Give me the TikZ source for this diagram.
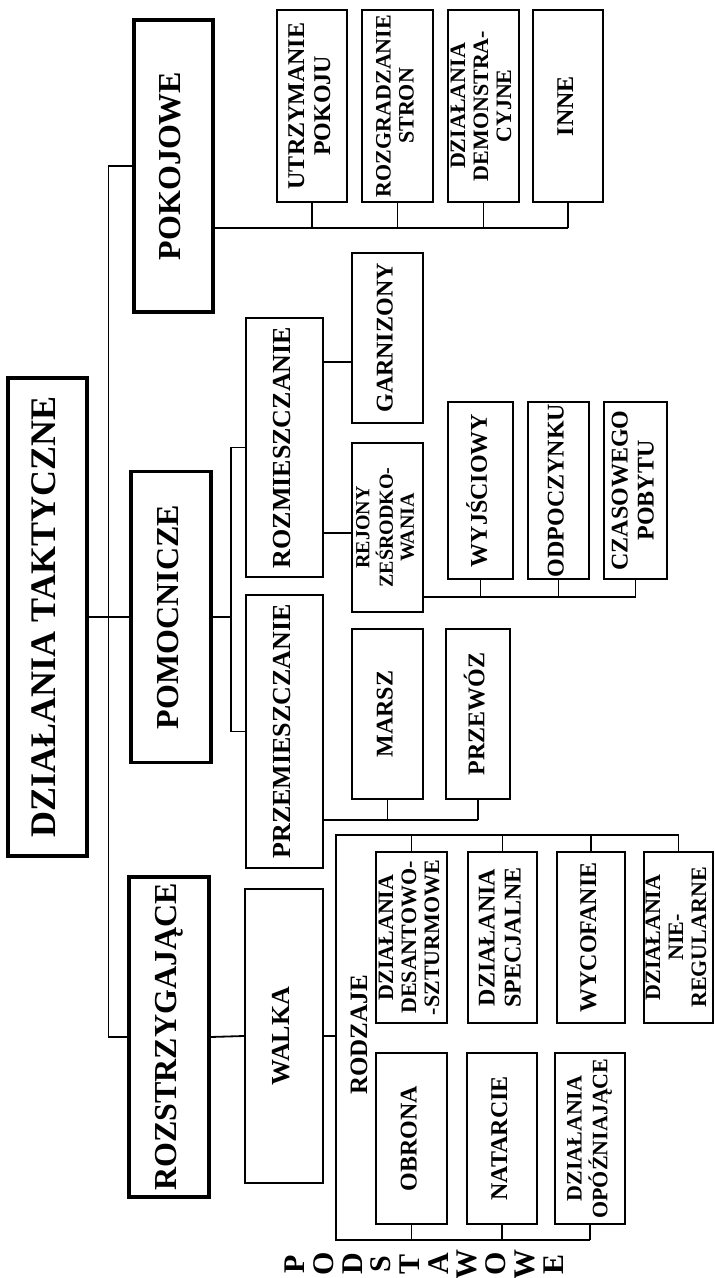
\documentclass[tikz,border=0pt]{standalone}
\usepackage{fontspec}
\setmainfont{Liberation Serif}
\usepackage{graphicx}
\newcommand\vt[1]{\rotatebox{90}{\begin{tabular}{@{}c@{}}#1\end{tabular}}}
\tikzset{
	bx/.style 2 args={draw,inner sep=0pt,minimum width=#1*0.5pt,minimum height=#2*0.5pt},
	lvlzero/.style={line width=1.9pt,font=\fontsize{18}{20}\selectfont\bfseries},
	lvlone/.style={line width=1.6pt,font=\fontsize{16}{18}\selectfont\bfseries},
	lvltwo/.style={line width=1.2pt,font=\fontsize{13}{14}\selectfont\bfseries},
	leafbox/.style={line width=1.1pt,font=\fontsize{12}{13}\selectfont\bfseries},
	smallbox/.style={line width=1.1pt,font=\fontsize{11}{11.5}\selectfont\bfseries},
	link/.style={line width=0.9pt},
}
\begin{document}
\begin{tikzpicture}[x=0.5pt,y=-0.5pt]
	\useasboundingbox (0,0) rectangle (715,1278);
	% levels 0 and 1
	\node[bx={79}{478},lvlzero] (root) at (47.5,617) {\vt{DZIAŁANIA TAKTYCZNE}};
	\node[bx={79}{292},lvlone] (pok) at (173.5,166) {\vt{POKOJOWE}};
	\node[bx={80}{291},lvlone] (pom) at (171,617) {\vt{POMOCNICZE}};
	\node[bx={80}{320},lvlone] (roz) at (169,1037) {\vt{ROZSTRZYGAJĄCE}};
	\draw[link] (root.east) -- (pom.west);
	\draw[link] (pok.west) -- ++(-24,0) |- (roz.west);
	% pokojowe
	\node[bx={70}{192},leafbox] (utrz) at (312,106) {\vt{UTRZYMANIE\\POKOJU}};
	\node[bx={71}{192},smallbox] (rozg) at (397.5,106) {\vt{ROZGRADZANIE\\STRON}};
	\node[bx={71}{192},smallbox] (demo) at (483.5,106) {\vt{DZIAŁANIA\\DEMONSTRA-\\CYJNE}};
	\node[bx={70}{192},leafbox] (inne) at (568,106) {\vt{INNE}};
	\coordinate (pbus) at (0,228);
	\draw[link] (pok.east |- pbus) -- (inne.south |- pbus);
	\foreach \n in {utrz,rozg,demo,inne}
		\draw[link] (\n.south) -- (\n.south |- pbus);
	% pomocnicze
	\node[bx={77}{259},lvltwo] (rozm) at (284.5,447.5) {\vt{ROZMIESZCZANIE}};
	\node[bx={77}{273},lvltwo] (przem) at (284.5,731.5) {\vt{PRZEMIESZCZANIE}};
	\coordinate (pb) at (231,617);
	\draw[link] (pom.east) -- (pb);
	\draw[link] (rozm.west) -| (pb) |- (przem.west);
	\node[bx={71}{170},leafbox] (garn) at (387.5,338) {\vt{GARNIZONY}};
	\node[bx={71}{169},leafbox,font=\fontsize{10}{10.5}\selectfont\bfseries] (rej) at (387.5,527.5) {\vt{REJONY\\ZEŚRODKO-\\WANIA}};
	\coordinate (g1) at ([yshift=-12pt]garn.west);
	\coordinate (r1) at ([yshift=-2.75pt]rej.west);
	\draw[link] (g1) -- (g1 -| rozm.east);
	\draw[link] (r1) -- (r1 -| rozm.east);
	\node[bx={65}{177},leafbox] (wyj) at (480.5,490.5) {\vt{WYJŚCIOWY}};
	\node[bx={61}{177},leafbox] (odp) at (558.5,490.5) {\vt{ODPOCZYNKU}};
	\node[bx={63}{177},leafbox] (czas) at (635.5,490.5) {\vt{CZASOWEGO\\POBYTU}};
	\coordinate (rbus) at (0,597);
	\draw[link] (rej.east |- rbus) -- (czas.south |- rbus);
	\foreach \n in {wyj,odp,czas}
		\draw[link] (\n.south) -- (\n.south |- rbus);
	\node[bx={71}{170},leafbox] (marsz) at (387.5,714) {\vt{MARSZ}};
	\node[bx={64}{170},leafbox] (przew) at (478,714) {\vt{PRZEWÓZ}};
	\coordinate (mbus) at (0,820);
	\draw[link] (przem.east |- mbus) -- (przew.south |- mbus);
	\foreach \n in {marsz,przew}
		\draw[link] (\n.south) -- (\n.south |- mbus);
	% rozstrzygajace
	\node[bx={78}{294},lvltwo] (walka) at (284,1036) {\vt{WALKA}};
	\draw[link] (roz.east) -- (walka.west);
	\node[bx={71}{171},smallbox] (desant) at (411.5,937.5) {\vt{DZIAŁANIA\\DESANTOWO-\\-SZTURMOWE}};
	\node[bx={69}{171},leafbox] (spec) at (502.5,937.5) {\vt{DZIAŁANIA\\SPECJALNE}};
	\node[bx={68}{171},leafbox] (wycof) at (591,937.5) {\vt{WYCOFANIE}};
	\node[bx={69}{171},smallbox] (niereg) at (678.5,937.5) {\vt{DZIAŁANIA\\NIE-\\REGULARNE}};
	\node[bx={71}{171},leafbox] (obrona) at (411.5,1138.5) {\vt{OBRONA}};
	\node[bx={70}{171},leafbox] (natar) at (502,1138.5) {\vt{NATARCIE}};
	\node[bx={70}{171},smallbox] (opozn) at (590,1138.5) {\vt{DZIAŁANIA\\OPÓŹNIAJĄCE}};
	\coordinate (rt) at (336,835);
	\coordinate (rb) at (336,1240);
	\draw[link] (walka.east) -- (walka.east -| rt);
	\draw[link] (niereg.north |- rt) -- (rt) -- (rb) -- (opozn.south |- rb);
	\foreach \n in {desant,spec,wycof,niereg}
		\draw[link] (\n.north) -- (\n.north |- rt);
	\foreach \n in {obrona,natar,opozn}
		\draw[link] (\n.south) -- (\n.south |- rb);
	\node[rotate=90,font=\fontsize{12.5}{14}\selectfont\bfseries] (rodz) at (359,1035) {RODZAJE};
	\foreach \l [count=\i from 0] in {P,O,D,S,T,A,W,O,W,E}
		\node[rotate=90,inner sep=0pt,font=\fontsize{15}{16}\selectfont\bfseries] (pl\i) at (295+\i*28.7,1264) {\l};
\end{tikzpicture}
\end{document}
